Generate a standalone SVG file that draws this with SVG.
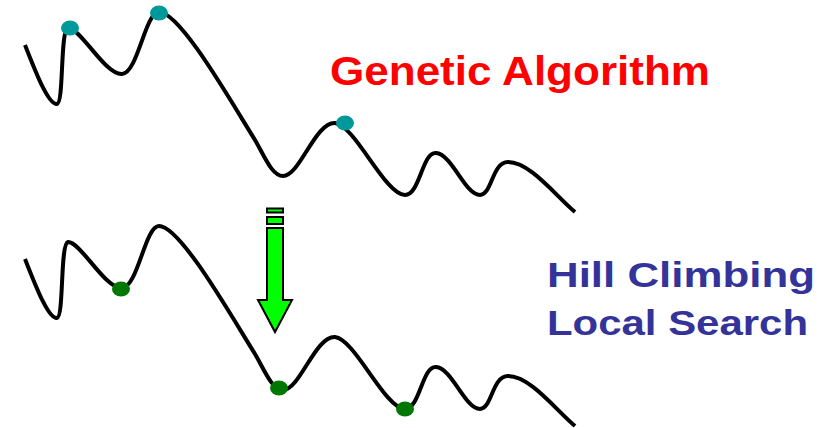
<svg xmlns="http://www.w3.org/2000/svg" width="835" height="428" viewBox="0 0 835 428">
<defs>
<style>
.curve{fill:none;stroke:#000;stroke-width:4;stroke-linejoin:round}
.ga{fill:#009999}
.hc{fill:#007700}
.arrow{fill:#00FF00;stroke:#000;stroke-width:2}
.t{font-family:"Liberation Sans",Arial,sans-serif;font-weight:bold}
</style>
<path id="land" d="M25,45 C35,70 48,105 57,104 C64,103 60,30 68,28 C80,27 105,75 122,74 C138,73 145,12 159,12 C180,12 230,100 255,140 C265,157 272,176 283,176 C300,176 315,122 335,123 C355,125 385,195 405,195 C420,195 422,152 436,153 C452,154 465,195 480,195 C492,195 492,162 508,162 C530,162 555,195 575,212"/>
</defs>
<g id="connectors">
<use href="#land" class="curve"/>
<use href="#land" class="curve" transform="translate(0,214)"/>
</g>
<g id="ga-dots">
<ellipse class="ga" cx="70" cy="28" rx="9" ry="7.5"/>
<ellipse class="ga" cx="159" cy="13" rx="9" ry="7.5"/>
<ellipse class="ga" cx="345" cy="123" rx="9" ry="7.5"/>
</g>
<g id="hc-dots">
<ellipse class="hc" cx="121" cy="289" rx="9" ry="7.5"/>
<ellipse class="hc" cx="279" cy="388" rx="9" ry="7.5"/>
<ellipse class="hc" cx="405" cy="409" rx="9" ry="7.5"/>
</g>
<g id="arrow">
<rect class="arrow" x="267" y="208.5" width="16" height="4"/>
<rect class="arrow" x="267" y="217" width="16" height="7"/>
<path class="arrow" d="M267,228 H283 V300 H292 L275,332 L258,300 H267 Z"/>
</g>
<g id="label-ga">
<text class="t" x="330" y="85" font-size="41" fill="#FF0000" textLength="380" lengthAdjust="spacingAndGlyphs">Genetic Algorithm</text>
</g>
<g id="label-hc">
<text class="t" x="547" y="287" font-size="35" fill="#333399" textLength="268" lengthAdjust="spacingAndGlyphs">Hill Climbing</text>
<text class="t" x="547" y="335" font-size="35" fill="#333399" textLength="261" lengthAdjust="spacingAndGlyphs">Local Search</text>
</g>
</svg>
